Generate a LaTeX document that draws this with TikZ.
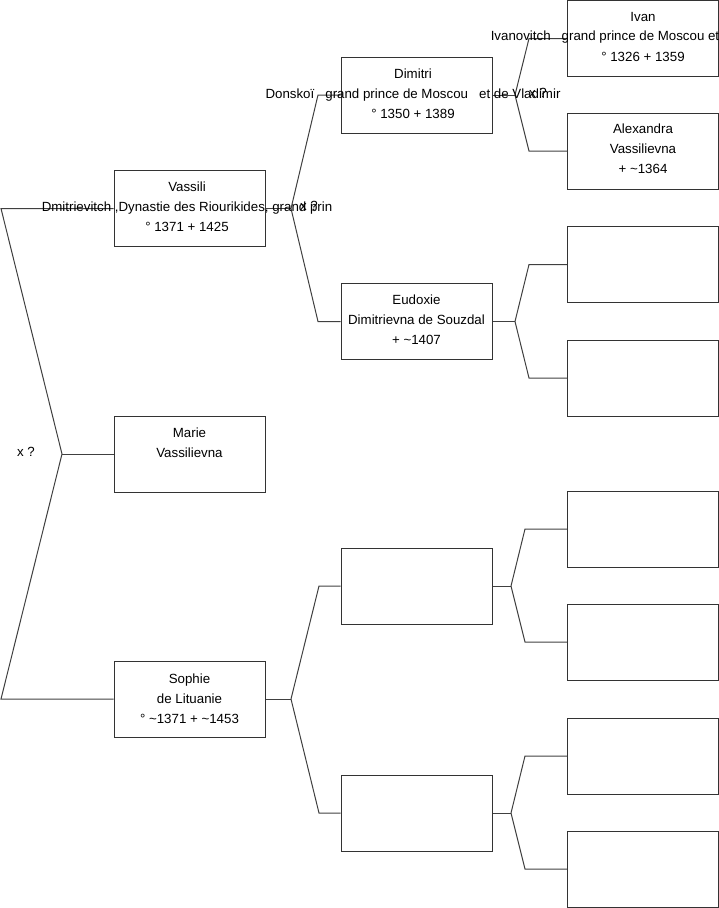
\documentclass[tikz,border=0pt]{standalone}
\usepackage{fontspec}
\setmainfont{Liberation Sans}
\begin{document}
\begin{tikzpicture}[x=1pt,y=-1pt,
  box/.style={draw=black!80, line width=1pt, minimum width=151pt, minimum height=76pt, inner sep=0pt},
  txt/.style={align=center, font=\fontsize{13.3}{20}\selectfont, inner sep=0pt},
  link/.style={draw=black!75, line width=1pt},
  xlab/.style={font=\fontsize{13.3}{16}\selectfont, inner sep=0pt}]
\useasboundingbox (0,0) rectangle (719,908);

% generation 1
\node[box] (vassili) at (189.5,208.5) {};
\node[box] (marie) at (189.5,454) {};
\node[box] (sophie) at (189.5,699) {};
% generation 2
\node[box] (dimitri) at (416.5,95) {};
\node[box] (eudoxie) at (416.5,321.5) {};
\node[box] (e1) at (416.5,586) {};
\node[box] (e2) at (416.5,813) {};
% generation 3
\node[box, minimum width=151pt] (ivan) at (643,38.5) {};
\node[box] (alexandra) at (643,151) {};
\node[box] (g3a) at (643,264.5) {};
\node[box] (g3b) at (643,378) {};
\node[box] (g3c) at (643,529) {};
\node[box] (g3d) at (643,642) {};
\node[box] (g3e) at (643,756) {};
\node[box] (g3f) at (643,869) {};

% junction coordinates
\coordinate (rt) at (1,208.5);
\coordinate (rj) at (62,454);
\coordinate (rb) at (1,699);

\coordinate (vj) at (291,208.5);
\coordinate (vt) at (318,95);
\coordinate (vb) at (318,321.5);

\coordinate (sj) at (291,699);
\coordinate (st) at (319,586);
\coordinate (sb) at (319,813);

\coordinate (dj) at (515,95);
\coordinate (dt) at (529,38.5);
\coordinate (db) at (529,151);

\coordinate (ej) at (515,321.5);
\coordinate (et) at (529,264.5);
\coordinate (eb) at (529,378);

\coordinate (aj) at (511,586);
\coordinate (at1) at (525,529);
\coordinate (ab) at (525,642);

\coordinate (bj) at (511,813);
\coordinate (bt) at (525,756);
\coordinate (bb) at (525,869);

% connectors
\draw[link] (vassili.west) -- (rt) -- (rj) -- (rb) -- (sophie.west);
\draw[link] (rj) -- (marie.west);

\draw[link] (vassili.east) -- (vj);
\draw[link] (vj) -- (vt) -- (dimitri.west);
\draw[link] (vj) -- (vb) -- (eudoxie.west);

\draw[link] (sophie.east) -- (sj);
\draw[link] (sj) -- (st) -- (e1.west);
\draw[link] (sj) -- (sb) -- (e2.west);

\draw[link] (dimitri.east) -- (dj);
\draw[link] (dj) -- (dt) -- (ivan.west);
\draw[link] (dj) -- (db) -- (alexandra.west);

\draw[link] (eudoxie.east) -- (ej);
\draw[link] (ej) -- (et) -- (g3a.west);
\draw[link] (ej) -- (eb) -- (g3b.west);

\draw[link] (e1.east) -- (aj);
\draw[link] (aj) -- (at1) -- (g3c.west);
\draw[link] (aj) -- (ab) -- (g3d.west);

\draw[link] (e2.east) -- (bj);
\draw[link] (bj) -- (bt) -- (g3e.west);
\draw[link] (bj) -- (bb) -- (g3f.west);

% texts
\node[txt] (tvassili) at (187,207) {Vassili\\Dmitrievitch ,Dynastie des Riourikides, grand prin\\° 1371 + 1425};
\node[txt] (tmarie) at (189.5,453) {Marie\\Vassilievna\\\phantom{X}};
\node[txt] (tsophie) at (189.5,699) {Sophie\\de Lituanie\\° \textasciitilde1371 + \textasciitilde1453};
\node[txt] (tdimitri) at (413,94) {Dimitri\\Donskoï\ \ \ grand prince de Moscou\ \ \ et de Vladimir\\° 1350 + 1389};
\node[txt] (teudoxie) at (416.5,320) {Eudoxie\\Dimitrievna de Souzdal\\+ \textasciitilde1407};
\node[txt] (tivan) at (643,37) {Ivan\\\phantom{X}\\° 1326 + 1359};
\node[txt] (tivan2) at (605,37) {Ivanovitch\ \ \ grand prince de Moscou et};
\node[txt] (talexandra) at (643,149) {Alexandra\\Vassilievna\\+ \textasciitilde1364};

\node[xlab] (x1) at (26,452) {x ?};
\node[xlab] (x2) at (309,206) {x ?};
\node[xlab] (x3) at (538,93) {x ?};
\end{tikzpicture}
\end{document}
